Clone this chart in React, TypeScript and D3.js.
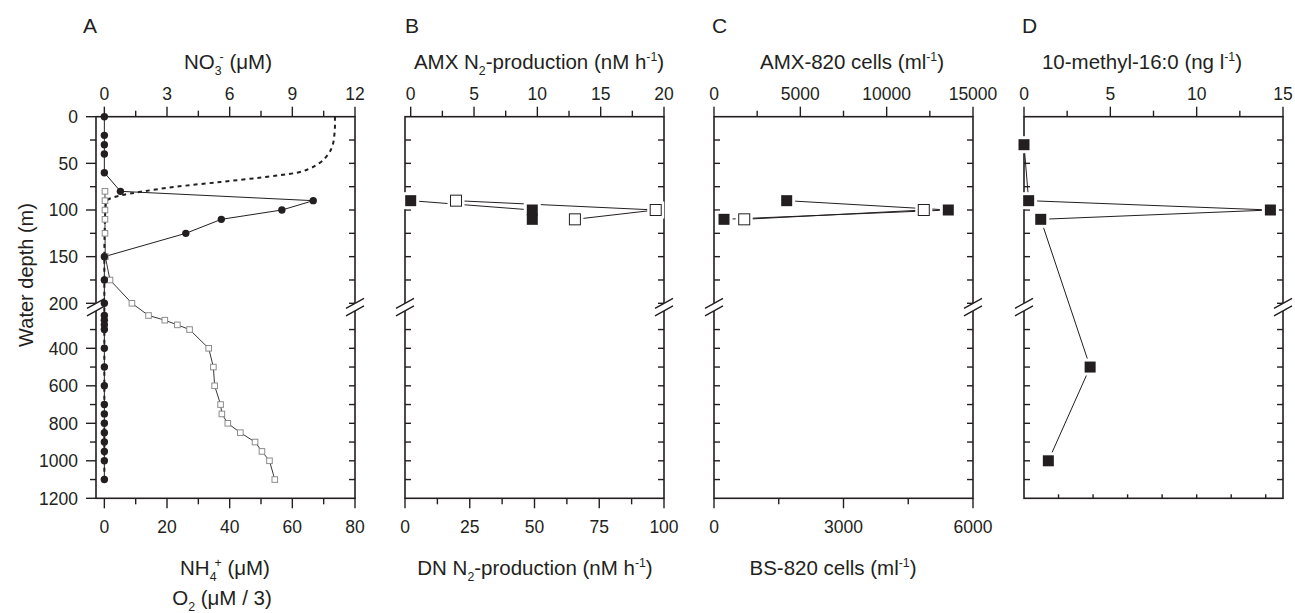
import React from "react";
import * as d3 from "d3";

// ---- depth axis (m), broken at 200 ----
const depthMajorUpper = [0, 50, 100, 150, 200];
const depthMinorUpper = [25, 75, 125, 175];
const depthMajorLower = [400, 600, 800, 1000, 1200];
const depthMinorLower = [300, 500, 700, 900, 1100];

// ---- panel A ----
const no3Depth = [0, 20, 30, 40, 60, 80, 90, 100, 110, 125, 150, 175, 200, 225, 250, 275, 300, 400, 500, 600, 700, 750, 800, 850, 900, 950, 1000, 1100];
const no3 = [0, 0, 0, 0, 0, 0.77, 10.0, 8.5, 5.6, 3.9, 0, 0, 0, 0, 0, 0, 0, 0, 0, 0, 0, 0, 0, 0, 0, 0, 0, 0];
const nh4Depth = [80, 90, 100, 110, 125, 150, 175, 200, 225, 250, 275, 300, 400, 500, 600, 700, 750, 800, 850, 900, 950, 1000, 1100];
const nh4 = [0.2, 0.2, 0.2, 0.2, 0.2, 0.3, 1.8, 8.8, 14.1, 19.3, 23.3, 27.2, 33.3, 34.8, 35.2, 37.1, 37.5, 39.4, 43.4, 48.1, 50.3, 52.7, 54.4];
const o2Depth = [0, 10, 20, 30, 40, 50, 55, 60, 65, 70, 75, 80, 85, 90, 100, 150, 200, 300, 400, 600, 800, 1000, 1100];
const o2 = [73.6, 73.6, 73.4, 72.9, 71.5, 68.5, 65.9, 61.5, 50.5, 37, 23, 12.5, 4.5, 0.8, 0.3, 0, 0, 0, 0, 0, 0, 0, 0];

// ---- panel B ----
const amxDepth = [90, 100, 110];
const amxRate = [0, 9.6, 9.6];
const dnDepth = [90, 100, 110];
const dnRate = [19.7, 96.8, 65.6];

// ---- panel C ----
const amxCellDepth = [90, 100, 110];
const amxCells = [4210, 13570, 580];
const bsCellDepth = [100, 110];
const bsCells = [4860, 700];

// ---- panel D ----
const methylDepth = [30, 90, 100, 110, 500, 1000];
const methyl = [0, 0.27, 14.27, 0.97, 3.83, 1.41];

// ---- x ticks ----
const aTop = [0, 3, 6, 9, 12], aTopMinor = [1.5, 4.5, 7.5, 10.5];
const aBot = [0, 20, 40, 60, 80], aBotMinor = [10, 30, 50, 70];
const bTop = [0, 5, 10, 15, 20], bTopMinor = [2.5, 7.5, 12.5, 17.5];
const bBot = [0, 25, 50, 75, 100], bBotMinor = [12.5, 37.5, 62.5, 87.5];
const cTop = [0, 5000, 10000, 15000], cTopMinor = [2500, 7500, 12500];
const cBot = [0, 3000, 6000], cBotMinor = [1500, 4500];
const dTop = [0, 5, 10, 15], dTopMinor = [2.5, 7.5, 12.5];
const dBotInner = [2, 4, 6, 8, 10, 12, 14];

const INK = "#231f20";
const FONT = "'Liberation Sans', Arial, Helvetica, sans-serif";
const TOP = 116.7, BRK_U = 303.3, BRK_L = 310.8, BOTTOM = 498.3;
const W = 259;

const yUpper = d3.scaleLinear().domain([0, 200]).range([TOP, BRK_U]);
const yLower = d3.scaleLinear().domain([200, 1200]).range([BRK_L, BOTTOM]);
const yPos = (d: number) => (d <= 200 ? yUpper(d) : yLower(d));

type Part = { t: string; s?: "sub" | "sup"; back?: number };

function Rich({ x, y, parts, size = 20.5 }: { x: number; y: number; parts: Part[]; size?: number }) {
  let cur = 0;
  return (
    <text x={x} y={y} textAnchor="middle" fontSize={size} fill={INK}>
      {parts.map((p, i) => {
        const target = p.s === "sub" ? size * 0.3 : p.s === "sup" ? -size * 0.38 : 0;
        const dy = target - cur;
        cur = target;
        return (
          <tspan key={i} dy={dy} dx={p.back ? -p.back : undefined} fontSize={p.s ? size * 0.6 : size}>
            {p.t}
          </tspan>
        );
      })}
    </text>
  );
}

const depthAll = [...depthMajorUpper, ...depthMinorUpper, ...depthMajorLower, ...depthMinorLower].filter(
  (d) => d !== 0 && d !== 1200
);

function Frame({ x0, top, topMajor, topMinor, bot, botMajor, botMinor, leftLabels, botInner }: any) {
  const x1 = x0 + W;
  const brk = (x: number) => (
    <g key={"b" + x}>
      <polygon points={`${x - 9},${BRK_U + 5} ${x + 9},${BRK_U - 5} ${x + 9},${BRK_L - 5} ${x - 9},${BRK_L + 5}`} fill="#fff" stroke="none" />
      <line x1={x - 9} y1={BRK_U + 5} x2={x + 9} y2={BRK_U - 5} stroke={INK} strokeWidth={1.4} />
      <line x1={x - 9} y1={BRK_L + 5} x2={x + 9} y2={BRK_L - 5} stroke={INK} strokeWidth={1.4} />
    </g>
  );
  return (
    <g stroke={INK} strokeWidth={1.4}>
      <rect x={x0} y={TOP} width={W} height={BOTTOM - TOP} fill="none" strokeWidth={1.6} />
      {/* top axis */}
      {topMajor.map((v: number) => (
        <g key={"tM" + v}>
          <line x1={top(v)} x2={top(v)} y1={TOP} y2={TOP - 10} />
          <text x={top(v)} y={100} textAnchor="middle" fontSize={17.5} stroke="none" fill={INK}>{v}</text>
        </g>
      ))}
      {topMinor.map((v: number) => <line key={"tm" + v} x1={top(v)} x2={top(v)} y1={TOP} y2={TOP - 6} />)}
      {/* bottom axis */}
      {bot && botMajor.map((v: number) => (
        <g key={"bM" + v}>
          <line x1={bot(v)} x2={bot(v)} y1={BOTTOM} y2={BOTTOM + 10} />
          <text x={bot(v)} y={532.7} textAnchor="middle" fontSize={17.5} stroke="none" fill={INK}>{v}</text>
        </g>
      ))}
      {bot && botMinor.map((v: number) => <line key={"bm" + v} x1={bot(v)} x2={bot(v)} y1={BOTTOM} y2={BOTTOM + 6} />)}
      {botInner && botInner.map((v: number) => {
        const x = x0 + (v / 15) * W;
        return <line key={"bi" + v} x1={x} x2={x} y1={BOTTOM} y2={BOTTOM - 4} />;
      })}
      {/* left axis */}
      {leftLabels ? (
        <g>
          {[...depthMajorUpper, ...depthMajorLower].map((d) => (
            <g key={"lM" + d}>
              <line x1={x0} x2={x0 - 10} y1={yPos(d)} y2={yPos(d)} />
              <text x={78} y={yPos(d)} dy="0.36em" textAnchor="end" fontSize={17.5} stroke="none" fill={INK}>{d}</text>
            </g>
          ))}
          {[...depthMinorUpper, ...depthMinorLower].map((d) => (
            <line key={"lm" + d} x1={x0} x2={x0 - 6} y1={yPos(d)} y2={yPos(d)} />
          ))}
        </g>
      ) : (
        depthAll.map((d) => <line key={"li" + d} x1={x0} x2={x0 + 6} y1={yPos(d)} y2={yPos(d)} />)
      )}
      {/* right axis, inward */}
      {depthAll.map((d) => <line key={"ri" + d} x1={x1} x2={x1 - 6} y1={yPos(d)} y2={yPos(d)} />)}
      {brk(x0)}
      {brk(x1)}
    </g>
  );
}

function Squares({ xs, ds, x, filled, size = 11 }: any) {
  return (
    <g>
      {xs.map((v: number, i: number) => (
        <rect key={"h" + i} x={x(v) - size / 2 - 3} y={yPos(ds[i]) - size / 2 - 3} width={size + 6} height={size + 6} fill="#fff" />
      ))}
      {xs.map((v: number, i: number) => (
        <rect key={"s" + i} x={x(v) - size / 2} y={yPos(ds[i]) - size / 2} width={size} height={size}
          fill={filled ? INK : "#fff"} stroke={INK} strokeWidth={filled ? 0 : 1} />
      ))}
    </g>
  );
}

export default function App() {
  const xs = [96, 405, 714, 1024];
  const aT = d3.scaleLinear().domain([-0.4, 12]).range([xs[0], xs[0] + W]);
  const aB = d3.scaleLinear().domain([-8 / 3, 80]).range([xs[0], xs[0] + W]);
  const bT = d3.scaleLinear().domain([-0.45, 20]).range([xs[1], xs[1] + W]);
  const bB = d3.scaleLinear().domain([0, 100]).range([xs[1], xs[1] + W]);
  const cT = d3.scaleLinear().domain([0, 15000]).range([xs[2], xs[2] + W]);
  const cB = d3.scaleLinear().domain([0, 6000]).range([xs[2], xs[2] + W]);
  const dT = d3.scaleLinear().domain([0, 15]).range([xs[3], xs[3] + W]);

  const path = (x: any, vals: number[], ds: number[], curve: any = d3.curveLinear) =>
    d3.line<number>().x((v) => x(v)).y((_, i) => yPos(ds[i])).curve(curve)(vals) || "";

  return (
    <svg width={1295} height={613} style={{ position: "absolute", left: 0, top: 0, background: "#fff" }} fontFamily={FONT}>
      <rect width={1295} height={613} fill="#fff" />
      {/* panel letters */}
      {["A", "B", "C", "D"].map((l, i) => (
        <text key={l} x={[83, 405, 712, 1022][i]} y={33} fontSize={21} fill={INK}>{l}</text>
      ))}
      <text transform="translate(33,275) rotate(-90)" textAnchor="middle" fontSize={20} fill={INK}>Water depth (m)</text>

      {/* titles */}
      <Rich x={228} y={69} parts={[{ t: "NO" }, { t: "3", s: "sub" }, { t: "-", s: "sup", back: 2 }, { t: " (μM)" }]} />
      <Rich x={539} y={69} parts={[{ t: "AMX N" }, { t: "2", s: "sub" }, { t: "-production (nM h" }, { t: "-1", s: "sup" }, { t: ")" }]} />
      <Rich x={852} y={69} parts={[{ t: "AMX-820 cells (ml" }, { t: "-1", s: "sup" }, { t: ")" }]} />
      <Rich x={1142} y={69} parts={[{ t: "10-methyl-16:0 (ng l" }, { t: "-1", s: "sup" }, { t: ")" }]} />
      <Rich x={225} y={574.5} parts={[{ t: "NH" }, { t: "4", s: "sub" }, { t: "+", s: "sup", back: 2 }, { t: " (μM)" }]} />
      <Rich x={222} y={605} parts={[{ t: "O" }, { t: "2", s: "sub" }, { t: " (μM / 3)" }]} />
      <Rich x={535} y={574.5} parts={[{ t: "DN N" }, { t: "2", s: "sub" }, { t: "-production (nM h" }, { t: "-1", s: "sup" }, { t: ")" }]} />
      <Rich x={833} y={574.5} parts={[{ t: "BS-820 cells (ml" }, { t: "-1", s: "sup" }, { t: ")" }]} />

      <Frame x0={xs[0]} top={aT} topMajor={aTop} topMinor={aTopMinor} bot={aB} botMajor={aBot} botMinor={aBotMinor} leftLabels />
      <Frame x0={xs[1]} top={bT} topMajor={bTop} topMinor={bTopMinor} bot={bB} botMajor={bBot} botMinor={bBotMinor} />
      <Frame x0={xs[2]} top={cT} topMajor={cTop} topMinor={cTopMinor} bot={cB} botMajor={cBot} botMinor={cBotMinor} />
      <Frame x0={xs[3]} top={dT} topMajor={dTop} topMinor={dTopMinor} botInner={dBotInner} />

      {/* panel A data */}
      <path d={path(aB, o2, o2Depth, d3.curveMonotoneY)} fill="none" stroke={INK} strokeWidth={2} strokeDasharray="4,4" />
      <path d={path(aB, nh4, nh4Depth)} fill="none" stroke={INK} strokeWidth={0.9} />
      <path d={path(aT, no3, no3Depth)} fill="none" stroke={INK} strokeWidth={1} />
      {nh4.map((v, i) => (
        <rect key={"nh" + i} x={aB(v) - 2.8} y={yPos(nh4Depth[i]) - 2.8} width={5.6} height={5.6} fill="#fff" stroke="#8c8c8c" strokeWidth={1} />
      ))}
      {no3.map((v, i) => (
        <circle key={"no" + i} cx={aT(v)} cy={yPos(no3Depth[i])} r={3.7} fill={INK} />
      ))}

      {/* panel B data */}
      <path d={path(bT, amxRate, amxDepth)} fill="none" stroke={INK} strokeWidth={1} />
      <path d={path(bB, dnRate, dnDepth)} fill="none" stroke={INK} strokeWidth={1} />
      <Squares xs={amxRate} ds={amxDepth} x={bT} filled />
      <Squares xs={dnRate} ds={dnDepth} x={bB} />

      {/* panel C data */}
      <path d={path(cT, amxCells, amxCellDepth)} fill="none" stroke={INK} strokeWidth={1} />
      <path d={path(cB, bsCells, bsCellDepth)} fill="none" stroke={INK} strokeWidth={1} />
      <Squares xs={amxCells} ds={amxCellDepth} x={cT} filled />
      <Squares xs={bsCells} ds={bsCellDepth} x={cB} />

      {/* panel D data */}
      <path d={path(dT, methyl, methylDepth)} fill="none" stroke={INK} strokeWidth={1} />
      <Squares xs={methyl} ds={methylDepth} x={dT} filled />
    </svg>
  );
}
